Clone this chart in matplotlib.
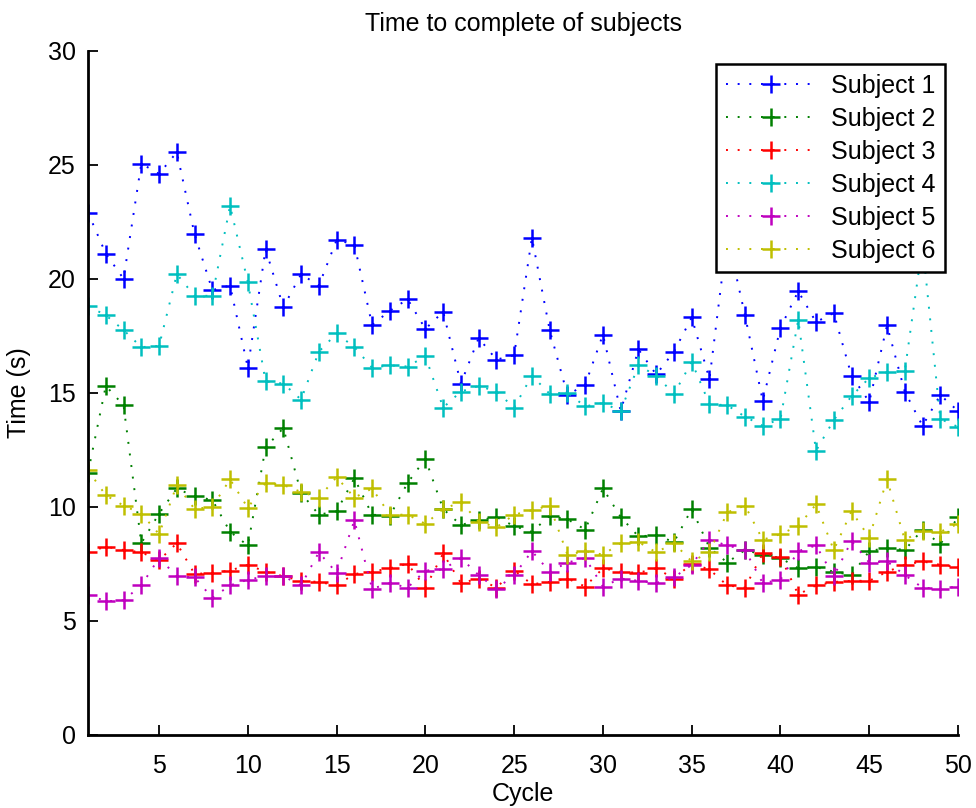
import matplotlib
matplotlib.use("Agg")
import matplotlib.pyplot as plt

plt.rcParams['font.family'] = ['Liberation Sans', 'DejaVu Sans']

# cycles 1..50
cycles = list(range(1, 51))

subject1 = [22.9, 21.1, 20.0, 25.05, 24.6, 25.55, 21.95, 19.5, 19.7, 16.1,
            21.3, 18.75, 20.2, 19.7, 21.7, 21.5, 17.97, 18.6, 19.1, 17.8,
            18.55, 15.4, 17.4, 16.45, 16.65, 21.8, 17.75, 14.9, 15.35, 17.55,
            14.2, 16.9, 15.8, 16.8, 18.3, 15.6, 21.9, 18.4, 14.65, 17.85,
            19.45, 18.1, 18.5, 15.75, 14.6, 17.95, 15.05, 13.55, 14.9, 14.2]
subject2 = [11.5, 15.3, 14.45, 8.4, 9.7, 10.8, 10.45, 10.3, 8.9, 8.3,
            12.6, 13.45, 10.6, 9.65, 9.8, 11.25, 9.65, 9.6, 11.05, 12.1,
            9.9, 9.2, 9.4, 9.55, 9.15, 8.9, 9.6, 9.45, 9.0, 10.8,
            9.55, 8.7, 8.75, 8.45, 9.9, 8.2, 7.55, 8.1, 7.9, 7.75,
            7.3, 7.35, 7.15, 7.0, 8.05, 8.2, 8.1, 9.0, 8.35, 9.55]
subject3 = [8.0, 8.25, 8.1, 8.0, 7.65, 8.4, 7.05, 7.1, 7.2, 7.45,
            7.15, 6.95, 6.75, 6.7, 6.55, 7.05, 7.15, 7.3, 7.5, 6.45,
            7.95, 6.65, 6.85, 6.45, 7.2, 6.6, 6.7, 6.85, 6.5, 7.3,
            7.15, 7.1, 7.3, 6.85, 7.5, 7.25, 6.55, 6.45, 7.95, 7.8,
            6.15, 6.55, 6.7, 6.75, 6.75, 7.15, 7.45, 7.6, 7.45, 7.35]
subject4 = [18.8, 18.4, 17.75, 17.0, 17.05, 20.2, 19.25, 19.25, 23.2, 19.85,
            15.5, 15.4, 14.7, 16.8, 17.6, 17.0, 16.1, 16.2, 16.15, 16.6,
            14.35, 15.05, 15.3, 15.05, 14.35, 15.75, 14.95, 15.0, 14.4, 14.55,
            14.2, 16.2, 15.75, 14.95, 16.35, 14.5, 14.45, 13.95, 13.55, 13.85,
            18.2, 12.45, 13.8, 14.85, 15.65, 15.9, 15.95, 21.5, 13.85, 13.5]
subject5 = [6.15, 5.85, 5.9, 6.55, 7.75, 6.95, 6.9, 6.0, 6.55, 6.8,
            6.95, 6.95, 6.55, 8.0, 7.1, 9.4, 6.4, 6.65, 6.45, 7.2,
            7.25, 7.75, 7.0, 6.4, 7.0, 8.05, 7.15, 7.55, 7.75, 6.5,
            6.85, 6.75, 6.65, 6.9, 7.45, 8.55, 8.3, 8.1, 6.65, 6.8,
            8.05, 8.3, 6.95, 8.5, 7.55, 7.6, 7.0, 6.45, 6.4, 6.5]
subject6 = [11.6, 10.5, 10.05, 9.7, 8.8, 10.95, 9.9, 10.0, 11.2, 9.95,
            11.05, 10.95, 10.65, 10.4, 11.3, 10.4, 10.8, 9.65, 9.65, 9.25,
            9.9, 10.2, 9.35, 9.1, 9.65, 9.85, 10.05, 7.9, 8.05, 7.9,
            8.4, 8.45, 8.0, 8.4, 7.6, 8.0, 9.75, 10.05, 8.55, 8.8,
            9.15, 10.1, 8.1, 9.8, 8.65, 11.2, 8.55, 8.95, 8.9, 9.25]

labels = ["Subject 1", "Subject 2", "Subject 3", "Subject 4", "Subject 5", "Subject 6"]
# old MATLAB colour order b g r c m y
colors = ["#0000ff", "#008000", "#ff0000", "#00bfbf", "#bf00bf", "#bfbf00"]
series = [subject1, subject2, subject3, subject4, subject5, subject6]

fig = plt.figure(figsize=(9.76, 8.08), dpi=100)
ax = fig.add_axes([0.0902, 0.0907, 0.8914, 0.8465])

for vals, c, lab in zip(series, colors, labels):
    ax.plot(cycles, vals, linestyle=(0, (1, 5)), linewidth=1.4, color=c,
            marker="+", markersize=12.5, markeredgewidth=1.8, label=lab)

ax.set_xlim(1, 50)
ax.set_ylim(0, 30)
ax.set_xticks(range(5, 51, 5))
ax.set_yticks(range(0, 31, 5))
ax.tick_params(direction="in", length=7, width=1.3, labelsize=18, pad=9)
ax.tick_params(axis="x", pad=14)
for s in ["top", "right"]:
    ax.spines[s].set_visible(False)
for s in ["left", "bottom"]:
    ax.spines[s].set_linewidth(2)

ax.set_title("Time to complete of subjects", fontsize=18, pad=14)
ax.set_xlabel("Cycle", fontsize=18, labelpad=3)
ax.set_ylabel("Time (s)", fontsize=18, labelpad=12)

leg = ax.legend(loc="upper right", bbox_to_anchor=(0.985, 0.98), borderaxespad=0,
                fontsize=18, fancybox=False, numpoints=1, handlelength=3.6,
                labelspacing=0.36, borderpad=0.38, handletextpad=0.6)
leg.get_frame().set_edgecolor("black")
leg.get_frame().set_linewidth(1.8)
leg.get_frame().set_alpha(1)

fig.savefig("out.png", dpi=100)
